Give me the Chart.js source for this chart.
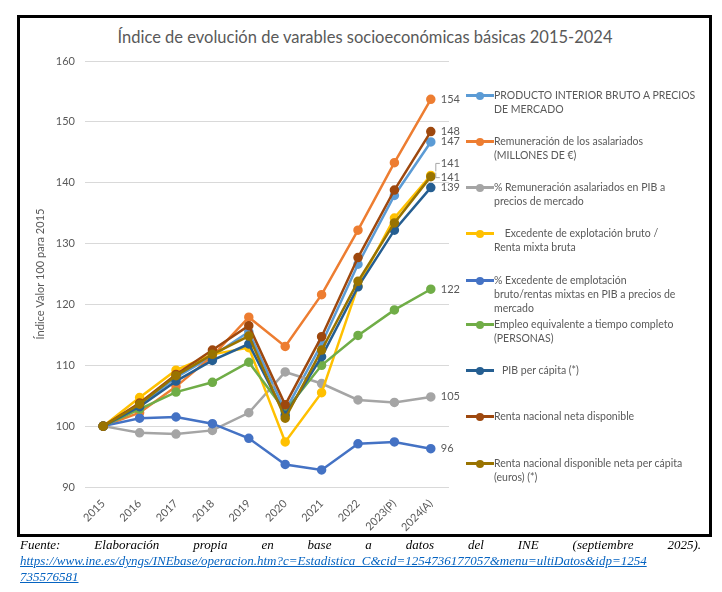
<!DOCTYPE html>
<html>
<head>
<meta charset="utf-8">
<script src="https://cdn.jsdelivr.net/npm/chart.js@4.4.1/dist/chart.umd.min.js"></script>
<style>
  body { margin: 0; background: #fff; width: 722px; height: 592px; position: relative; overflow: hidden; }
  .frame { position: absolute; left: 17px; top: 15px; width: 689px; height: 516px; border: 3px solid #000; }
  .wrap { position: absolute; left: 0; top: 0; width: 722px; height: 540px; }
  .title { position: absolute; left: 20px; width: 690px; top: 27px; text-align: center;
           font-family: Lato, sans-serif; font-size: 16.5px; color: #595959; }
  .legend { position: absolute; left: 0; top: 0; font-family: Lato, sans-serif; font-size: 10.5px; color: #595959; }
  .item { position: absolute; left: 466px; width: 240px; }
  .mk { position: absolute; left: 0; top: 6px; width: 28px; height: 3px; }
  .mk i { position: absolute; left: 10px; top: -2.5px; width: 8px; height: 8px; border-radius: 50%; }
  .txt { position: absolute; left: 28px; line-height: 14px; white-space: pre; }
  .foot { position: absolute; left: 20px; width: 681px; top: 537px; font-family: "Liberation Serif", serif;
          font-style: italic; font-size: 13px; line-height: 16px; color: #000; }
  .j { text-align: justify; text-align-last: justify; }
  .foot a { color: #0563c1; text-decoration: underline; }
</style>
</head>
<body>
<div class="frame"></div>
<div class="title">Índice de evolución de varables socioeconómicas básicas 2015-2024</div>
<div class="wrap"><canvas id="myChart"></canvas></div>
<div class="legend" id="legend"></div>
<div class="foot">
  <div class="j">Fuente: Elaboración propia en base a datos del INE (septiembre 2025).</div>
  <a>https://www.ine.es/dyngs/INEbase/operacion.htm?c=Estadistica_C&amp;cid=1254736177057&amp;menu=ultiDatos&amp;idp=1254<br>735576581</a>
</div>
<script>
const years = ['2015', '2016', '2017', '2018', '2019', '2020', '2021', '2022', '2023(P)', '2024(A)'];
const yTicks = [90, 100, 110, 120, 130, 140, 150, 160];

const pib        = [100, 103.5, 108.0, 111.5, 115.5, 102.5, 113.5, 126.6, 137.9, 146.7];
const remun      = [100, 102.2, 106.5, 111.5, 117.9, 113.1, 121.6, 132.2, 143.3, 153.7];
const pctRemun   = [100, 98.9, 98.7, 99.3, 102.2, 108.9, 107.0, 104.3, 103.9, 104.8];
const excedente  = [100, 104.7, 109.2, 111.8, 112.9, 97.4, 105.5, 123.0, 134.2, 141.2];
const pctExced   = [100, 101.3, 101.5, 100.4, 98.0, 93.7, 92.8, 97.1, 97.4, 96.3];
const empleo     = [100, 102.8, 105.6, 107.2, 110.5, 102.5, 110.0, 114.9, 119.1, 122.5];
const pibPc      = [100, 103.2, 107.4, 110.8, 113.5, 101.8, 111.4, 122.9, 132.2, 139.2];
const renta      = [100, 103.8, 108.5, 112.5, 116.5, 103.5, 114.7, 127.7, 138.8, 148.4];
const rentaPc    = [100, 103.6, 108.3, 111.8, 114.8, 101.3, 112.5, 123.8, 133.4, 141.0];

const seriesNames = [
  'PRODUCTO INTERIOR BRUTO A PRECIOS\nDE MERCADO',
  'Remuneración de los asalariados\n(MILLONES DE €)',
  '% Remuneración asalariados en PIB a\nprecios de mercado',
  '    Excedente de explotación bruto /\nRenta mixta bruta',
  '% Excedente de emplotación\nbruto/rentas mixtas en PIB a precios de\nmercado',
  'Empleo equivalente a tiempo completo\n(PERSONAS)',
  '   PIB per cápita (*)',
  'Renta nacional neta disponible',
  'Renta nacional disponible neta per cápita\n(euros) (*)'
];
const seriesData = [pib, remun, pctRemun, excedente, pctExced, empleo, pibPc, renta, rentaPc];
const endLabels = ['147', '154', '105', '141', '96', '122', '139', '148', '141'];
const labelShift = [0, 0, 0, -12, 0, 0, 0, 0, 1];
const colors = ['#5b9bd5', '#ed7d31', '#a5a5a5', '#ffc000', '#4472c4', '#70ad47', '#255e91', '#9e480e', '#997300'];
const legendTop = [88, 134, 180, 226, 273, 317, 363, 409, 456];

const endLabelPlugin = {
  id: 'endLabels',
  afterDatasetsDraw (chart) {
    const ctx = chart.ctx;
    ctx.save();
    ctx.font = '11px Lato';
    ctx.fillStyle = '#595959';
    ctx.textBaseline = 'middle';
    chart.data.datasets.forEach((ds, i) => {
      const pt = chart.getDatasetMeta(i).data[ds.data.length - 1];
      const y = pt.y + labelShift[i];
      ctx.fillText(endLabels[i], pt.x + 10, y);
      if (labelShift[i] !== 0) {
        ctx.strokeStyle = '#a6a6a6';
        ctx.lineWidth = 1;
        ctx.beginPath();
        ctx.moveTo(pt.x + 5, pt.y - 4);
        ctx.lineTo(pt.x + 5, y);
        ctx.lineTo(pt.x + 9, y);
        ctx.stroke();
      }
    });
    ctx.restore();
  }
};

function buildLegend (chart) {
  const box = document.getElementById('legend');
  chart.data.datasets.forEach((ds, i) => {
    const el = document.createElement('div');
    el.className = 'item';
    el.style.top = legendTop[i] + 'px';
    el.innerHTML = '<span class="mk" style="background:' + ds.borderColor + '"><i style="background:' + ds.borderColor + '"></i></span>' +
      '<span class="txt"></span>';
    el.querySelector('.txt').textContent = ds.label;
    box.appendChild(el);
  });
}

const ctx = document.getElementById('myChart');

const chart = new Chart(ctx, {
  type: 'line',
  data: {
    labels: years,
    datasets: seriesData.map((d, i) => ({
      label: seriesNames[i],
      data: d,
      borderColor: colors[i],
      backgroundColor: colors[i],
      borderWidth: 2.5,
      pointRadius: 3.5,
      pointHoverRadius: 3.5,
      tension: 0,
      order: seriesData.length - 1 - i
    }))
  },
  options: {
    responsive: true,
    maintainAspectRatio: false,
    animation: false,
    layout: { padding: { left: 34, right: 273, top: 61, bottom: 0 } },
    plugins: {
      legend: { display: false },
      tooltip: { enabled: false }
    },
    scales: {
      x: {
        offset: true,
        grid: { display: false },
        border: { display: false },
        ticks: { color: '#595959', font: { family: 'Lato', size: 11 }, minRotation: 45, maxRotation: 45, padding: 2 },
        afterFit: (s) => { s.height = 540 - 61 - 426; }
      },
      y: {
        min: 90,
        max: 160,
        afterBuildTicks: (s) => { s.ticks = yTicks.map(v => ({ value: v })); },
        grid: { color: '#d9d9d9', lineWidth: 1, drawTicks: false },
        border: { display: false },
        ticks: { color: '#595959', font: { family: 'Lato', size: 11 }, padding: 10 },
        title: { display: true, text: 'Índice Valor 100 para 2015', color: '#595959', font: { family: 'Lato', size: 11 }, padding: 0 },
        afterFit: (s) => { s.width = 85 - 34; }
      }
    }
  },
  plugins: [endLabelPlugin]
});

buildLegend(chart);
</script>
</body>
</html>
